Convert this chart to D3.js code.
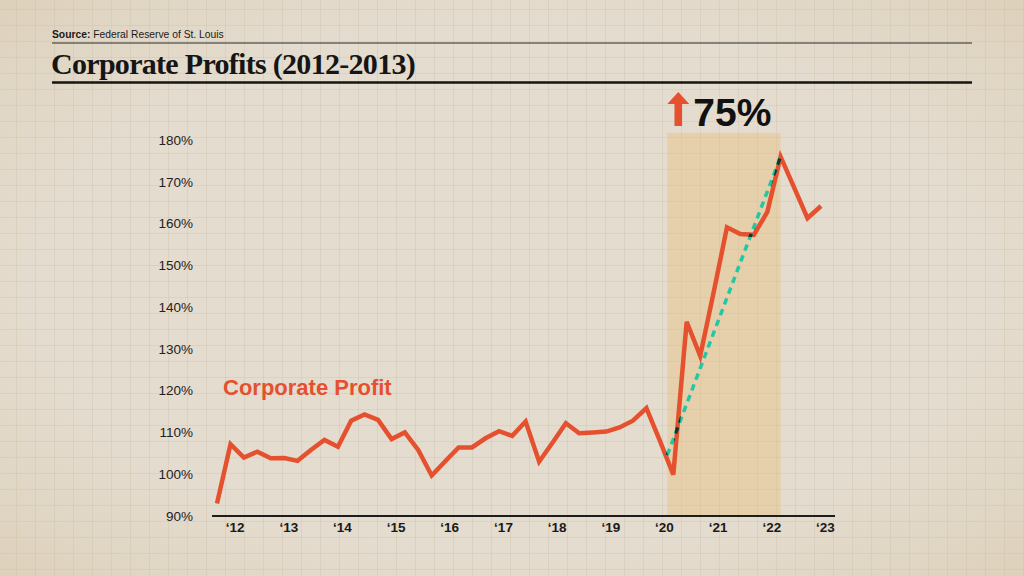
<!DOCTYPE html>
<html>
<head>
<meta charset="utf-8">
<script src="https://cdn.jsdelivr.net/npm/d3@7"></script>
<style>
  body { margin: 0; background: #e4dccf; }
  svg { display: block; }
  .ylab text { font-family: "Liberation Sans", Arial, sans-serif; font-size: 13.5px; fill: #222; }
  .xlab text { font-family: "Liberation Sans", Arial, sans-serif; font-size: 13.5px; font-weight: bold; fill: #1a1a1a; }
</style>
</head>
<body>
<div class="chart"></div>
<script>
// quarterly corporate profit index, first quarter = Q4 2011
var startQuarter = new Date(2011, 9, 1);
var profitValues = [
  93.0, 107.2, 104.0, 105.4, 103.8, 103.9, 103.2, 105.8, 108.2, 106.6,
  112.8, 114.3, 113.0, 108.4, 110.0, 105.8, 99.7, 103.1, 106.4, 106.4,
  108.6, 110.3, 109.2, 112.6, 103.0, 107.6, 112.2, 109.8, 110.0, 110.2,
  111.2, 112.8, 115.8, 108.0, 99.9, 136.5, 128.3, 143.6, 159.1, 157.5,
  157.3, 162.8, 176.0, 168.7, 161.3, 164.2
];
var yTicks = [90, 100, 110, 120, 130, 140, 150, 160, 170, 180];
var yearTicks = [2012, 2013, 2014, 2015, 2016, 2017, 2018, 2019, 2020, 2021, 2022, 2023];

// highlighted period and the trend line across it
var shadeStart = new Date(2020, 1, 20);
var shadeEnd = new Date(2022, 3, 1);
var trendLine = [
  {date: new Date(2020, 1, 20), value: 104.6},
  {date: new Date(2022, 3, 1), value: 176.0}
];
var changeLabel = "75%";
var seriesLabel = "Corporate Profit";

var width = 1024, height = 576;

var data = profitValues.map(function (v, i) {
  return {date: d3.timeMonth.offset(startQuarter, i * 3), value: v};
});

var x = d3.scaleTime()
  .domain(d3.extent(data, function (d) { return d.date; }))
  .range([217, 821]);
var y = d3.scaleLinear().domain([90, 180]).range([516, 140]);

var valueline = d3.line()
  .x(function (d) { return x(d.date); })
  .y(function (d) { return y(d.value); });

var svg = d3.select(".chart").append("svg")
  .attr("width", width)
  .attr("height", height);

var defs = svg.append("defs");
var vign = defs.append("radialGradient").attr("id", "vign")
  .attr("cx", "50%").attr("cy", "50%").attr("r", "75%");
vign.append("stop").attr("offset", "60%").attr("stop-color", "#cfb98f").attr("stop-opacity", 0);
vign.append("stop").attr("offset", "100%").attr("stop-color", "#c9ac78").attr("stop-opacity", 0.28);

// where the trend line crosses the red line it shows darker
defs.append("mask").attr("id", "redmask")
  .append("path").datum(data)
  .attr("fill", "none").attr("stroke", "#fff").attr("stroke-width", 4.5)
  .attr("d", valueline);

// paper
svg.append("rect").attr("width", width).attr("height", height).attr("fill", "#e4dccf");

var grid = svg.append("g").attr("stroke", "#b9a98c").attr("stroke-opacity", 0.2).attr("stroke-width", 1);
grid.selectAll(".gv").data(d3.range(16.5, width, 19)).enter().append("line")
  .attr("x1", function (d) { return d; }).attr("x2", function (d) { return d; })
  .attr("y1", 0).attr("y2", height);
grid.selectAll(".gh").data(d3.range(9.5, height, 16)).enter().append("line")
  .attr("y1", function (d) { return d; }).attr("y2", function (d) { return d; })
  .attr("x1", 0).attr("x2", width);

svg.append("rect").attr("width", width).attr("height", height).attr("fill", "url(#vign)");

// header
svg.append("text")
  .attr("x", 52).attr("y", 37.5)
  .style("font-family", "'Liberation Sans', Arial, sans-serif")
  .style("font-size", "10.3px").attr("fill", "#1a1a1a")
  .call(function (t) {
    t.append("tspan").style("font-weight", "bold").text("Source: ");
    t.append("tspan").text("Federal Reserve of St. Louis");
  });
svg.append("line").attr("x1", 52).attr("x2", 972).attr("y1", 43).attr("y2", 43)
  .attr("stroke", "#2a2a2a").attr("stroke-width", 1.2);
svg.append("text")
  .attr("x", 51).attr("y", 74)
  .style("font-family", "'Liberation Serif', 'Times New Roman', serif")
  .style("font-size", "30px").style("font-weight", "bold")
  .style("letter-spacing", "-0.7px").attr("fill", "#151515")
  .text("Corporate Profits (2012-2013)");
svg.append("line").attr("x1", 52).attr("x2", 972).attr("y1", 82.5).attr("y2", 82.5)
  .attr("stroke", "#151515").attr("stroke-width", 2.5);

// highlighted period
svg.append("rect")
  .attr("x", x(shadeStart)).attr("y", 133)
  .attr("width", x(shadeEnd) - x(shadeStart))
  .attr("height", y(90) - 133)
  .attr("fill", "#e6bf76").attr("fill-opacity", 0.4);

// arrow + change label
var ax = x(shadeStart) + 11;
var arrow = d3.path();
arrow.moveTo(ax, 92);
arrow.lineTo(ax + 11, 104);
arrow.lineTo(ax + 3.8, 104);
arrow.lineTo(ax + 3.8, 126);
arrow.lineTo(ax - 3.8, 126);
arrow.lineTo(ax - 3.8, 104);
arrow.lineTo(ax - 11, 104);
arrow.closePath();
svg.append("path").attr("d", arrow.toString()).attr("fill", "#e5512f");
svg.append("text")
  .attr("x", ax + 15).attr("y", 125.5)
  .style("font-family", "'Liberation Sans', Arial, sans-serif")
  .style("font-size", "39px").style("font-weight", "bold").attr("fill", "#111")
  .text(changeLabel);

// axes
var yAxis = svg.append("g").attr("class", "ylab")
  .attr("transform", "translate(197,0)")
  .call(d3.axisLeft(y).tickValues(yTicks).tickSize(0).tickPadding(4)
    .tickFormat(function (d) { return d + "%"; }));
yAxis.select(".domain").remove();

var xAxis = svg.append("g").attr("class", "xlab")
  .attr("transform", "translate(0," + y(90) + ")")
  .call(d3.axisBottom(x)
    .tickValues(yearTicks.map(function (yr) { return new Date(yr, 0, 1); }))
    .tickSize(0).tickPadding(6)
    .tickFormat(function (d) { return "\u2018" + String(d.getFullYear()).slice(2); }));
xAxis.select(".domain").remove();
xAxis.selectAll("text").attr("dx", 4);
svg.append("line")
  .attr("x1", x.range()[0] - 5).attr("x2", x.range()[1] + 14)
  .attr("y1", y(90)).attr("y2", y(90))
  .attr("stroke", "#1d1d1d").attr("stroke-width", 2);

// series
svg.append("path")
  .datum(data)
  .attr("fill", "none")
  .attr("stroke", "#e5512f")
  .attr("stroke-width", 4.5)
  .attr("stroke-linejoin", "miter")
  .attr("d", valueline);

svg.append("path")
  .datum(trendLine)
  .attr("fill", "none")
  .attr("stroke", "#22c7a3")
  .attr("stroke-width", 3.5)
  .attr("stroke-dasharray", "6.5,5")
  .attr("d", valueline);

svg.append("path")
  .datum(trendLine)
  .attr("fill", "none")
  .attr("stroke", "#1b3326")
  .attr("stroke-width", 3.5)
  .attr("stroke-dasharray", "6.5,5")
  .attr("mask", "url(#redmask)")
  .attr("d", valueline);

svg.append("text")
  .attr("x", 223).attr("y", 395)
  .style("font-family", "'Liberation Sans', Arial, sans-serif")
  .style("font-size", "22px").style("font-weight", "bold").attr("fill", "#e5512f")
  .text(seriesLabel);
</script>
</body>
</html>
